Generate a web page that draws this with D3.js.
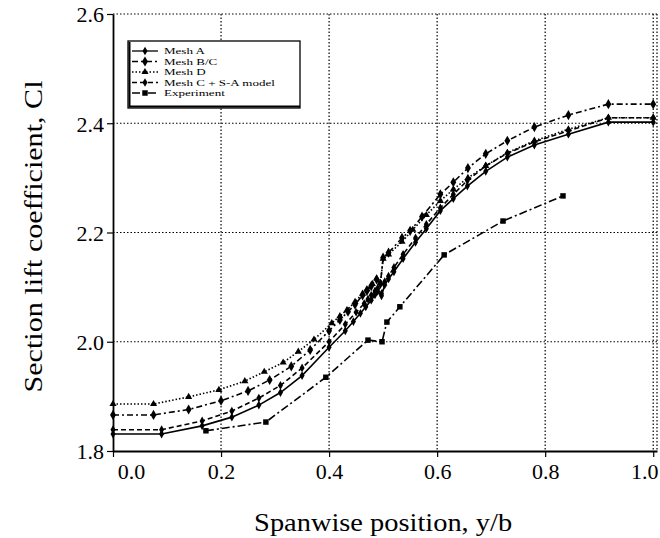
<!DOCTYPE html>
<html>
<head>
<meta charset="utf-8">
<script src="https://cdn.jsdelivr.net/npm/d3@7"></script>
<style>
  html, body { margin: 0; padding: 0; background: #fff; }
  #chart { width: 660px; height: 538px; }
  text { font-family: "Liberation Serif", "Times New Roman", serif; fill: #000; }
</style>
</head>
<body>
<div id="chart"></div>
<script>
'use strict';

// spanwise position y/b and section Cl
const meshA_x = [0, 0.09, 0.165, 0.22, 0.27, 0.31, 0.35, 0.4, 0.43, 0.445, 0.458, 0.468, 0.478, 0.485, 0.49, 0.497, 0.503, 0.51, 0.52, 0.537, 0.56, 0.58, 0.606, 0.63, 0.656, 0.69, 0.73, 0.78, 0.843, 0.917, 1.0];
const meshA_y = [1.831, 1.831, 1.846, 1.862, 1.884, 1.907, 1.938, 1.99, 2.02, 2.037, 2.052, 2.064, 2.076, 2.086, 2.092, 2.084, 2.104, 2.115, 2.128, 2.152, 2.182, 2.207, 2.24, 2.262, 2.285, 2.312, 2.338, 2.36, 2.38, 2.402, 2.402];

const meshBC_x = [0, 0.075, 0.14, 0.2, 0.25, 0.29, 0.33, 0.365, 0.4, 0.42, 0.435, 0.448, 0.462, 0.47, 0.478, 0.488, 0.495, 0.5, 0.51, 0.535, 0.55, 0.572, 0.606, 0.63, 0.657, 0.69, 0.73, 0.78, 0.843, 0.917, 1.0];
const meshBC_y = [1.866, 1.866, 1.876, 1.892, 1.91, 1.93, 1.955, 1.985, 2.02, 2.04, 2.055, 2.068, 2.085, 2.093, 2.102, 2.114, 2.106, 2.154, 2.163, 2.19, 2.203, 2.229, 2.27, 2.292, 2.318, 2.344, 2.368, 2.393, 2.415, 2.435, 2.435];

const meshD_x = [0, 0.075, 0.14, 0.196, 0.244, 0.28, 0.315, 0.343, 0.372, 0.405, 0.42, 0.433, 0.448, 0.462, 0.47, 0.48, 0.488, 0.495, 0.5, 0.51, 0.535, 0.555, 0.58, 0.606, 0.63, 0.657, 0.69, 0.73, 0.78, 0.843, 0.917, 1.0];
const meshD_y = [1.886, 1.886, 1.899, 1.912, 1.928, 1.945, 1.962, 1.982, 2.004, 2.034, 2.047, 2.058, 2.073, 2.088, 2.096, 2.106, 2.116, 2.107, 2.152, 2.16, 2.183, 2.205, 2.232, 2.258, 2.279, 2.3, 2.322, 2.346, 2.368, 2.389, 2.41, 2.41];

const meshCSA_x = [0, 0.09, 0.165, 0.22, 0.27, 0.31, 0.35, 0.4, 0.43, 0.45, 0.465, 0.472, 0.478, 0.485, 0.49, 0.497, 0.503, 0.51, 0.52, 0.537, 0.56, 0.58, 0.606, 0.63, 0.656, 0.69, 0.73, 0.78, 0.843, 0.917, 1.0];
const meshCSA_y = [1.839, 1.839, 1.855, 1.873, 1.897, 1.92, 1.952, 2.0, 2.032, 2.054, 2.07, 2.078, 2.085, 2.093, 2.098, 2.088, 2.11, 2.12, 2.136, 2.16, 2.19, 2.215, 2.245, 2.27, 2.295, 2.322, 2.345, 2.366, 2.386, 2.41, 2.41];

const exp_x = [0.172, 0.283, 0.394, 0.472, 0.498, 0.507, 0.531, 0.613, 0.722, 0.833];
const exp_y = [1.837, 1.853, 1.935, 2.003, 2.0, 2.036, 2.064, 2.159, 2.221, 2.267];

const seriesNames = ['Mesh A', 'Mesh B/C', 'Mesh D', 'Mesh C + S-A model', 'Experiment'];
const xTicks = [0, 0.2, 0.4, 0.6, 0.8, 1.0];
const yTicks = [1.8, 2.0, 2.2, 2.4, 2.6];

const SERIES = [
  { name: seriesNames[0], xs: meshA_x,   ys: meshA_y,   dash: null,      symbol: d3.symbolDiamond,  size: 22 },
  { name: seriesNames[1], xs: meshBC_x,  ys: meshBC_y,  dash: '6,3,2,3', symbol: d3.symbolDiamond,  size: 30 },
  { name: seriesNames[2], xs: meshD_x,   ys: meshD_y,   dash: '1.5,2',   symbol: d3.symbolTriangle, size: 22 },
  { name: seriesNames[3], xs: meshCSA_x, ys: meshCSA_y, dash: '5,3',     symbol: d3.symbolDiamond,  size: 22 },
  { name: seriesNames[4], xs: exp_x,     ys: exp_y,     dash: '8,3,2,3', symbol: d3.symbolSquare,   size: 30 },
];

const MARGIN = { top: 14, right: 3, bottom: 87, left: 113 };
const W = 660, H = 538;
const w = W - MARGIN.left - MARGIN.right;
const h = H - MARGIN.top - MARGIN.bottom;

const svg = d3.select('#chart').append('svg').attr('width', W).attr('height', H);
const g = svg.append('g').attr('transform', `translate(${MARGIN.left},${MARGIN.top})`);

const x = d3.scaleLinear().domain([0, 1.007]).range([0, w]);
const y = d3.scaleLinear().domain([1.8, 2.6]).range([h, 0]);

// dotted grid
g.append('g')
  .selectAll('line')
  .data(xTicks.slice(1).concat([1.007]))
  .join('line')
  .attr('x1', d => x(d)).attr('x2', d => x(d))
  .attr('y1', 0).attr('y2', h)
  .attr('stroke', '#000').attr('stroke-width', 1.2).attr('stroke-dasharray', '1.5,2');

g.append('g')
  .selectAll('line')
  .data(yTicks.slice(1))
  .join('line')
  .attr('x1', 0).attr('x2', w)
  .attr('y1', d => y(d)).attr('y2', d => y(d))
  .attr('stroke', '#000').attr('stroke-width', 1.2).attr('stroke-dasharray', '1.5,2');

// axes
const xAxis = g.append('g')
  .attr('transform', `translate(0,${h})`)
  .call(d3.axisBottom(x).tickValues(xTicks).tickFormat(d3.format('.1f')).tickSize(6).tickSizeOuter(0).tickPadding(6));
xAxis.select('.domain').attr('stroke-width', 1.8);
xAxis.selectAll('text').attr('font-size', 22);
xAxis.selectAll('.tick').filter(d => d === 0).select('text').attr('dx', 18);
xAxis.selectAll('.tick').filter(d => d === 1).select('text').attr('dx', -9);

const yAxis = g.append('g')
  .call(d3.axisLeft(y).tickValues(yTicks).tickFormat(d3.format('.1f')).tickSize(6).tickSizeOuter(0).tickPadding(3));
yAxis.select('.domain').attr('stroke-width', 1.8);
yAxis.selectAll('text').attr('font-size', 22).attr('dy', '0.36em');
g.selectAll('.tick line').attr('stroke-width', 1.2);

// series
const line = d3.line().x(d => x(d[0])).y(d => y(d[1]));

SERIES.forEach(s => {
  const pts = s.xs.map((v, i) => [v, s.ys[i]]);
  g.append('path')
    .datum(pts)
    .attr('fill', 'none')
    .attr('stroke', '#000')
    .attr('stroke-width', 1.6)
    .attr('stroke-dasharray', s.dash)
    .attr('d', line);
  g.append('g')
    .selectAll('path')
    .data(pts)
    .join('path')
    .attr('transform', d => `translate(${x(d[0])},${y(d[1])})`)
    .attr('d', d3.symbol().type(s.symbol).size(s.size))
    .attr('fill', '#000');
});

// legend
const legend = svg.append('g').attr('transform', 'translate(128,41)');
legend.append('rect')
  .attr('x', 0).attr('y', 0).attr('width', 172).attr('height', 67)
  .attr('fill', '#fff').attr('stroke', '#000').attr('stroke-width', 1.3);
legend.append('path')
  .attr('d', 'M1.5,1 V65.5 H172')
  .attr('fill', 'none').attr('stroke', '#000').attr('stroke-width', 2);

SERIES.forEach((s, i) => {
  const ry = 10 + i * 10.5;
  const row = legend.append('g').attr('transform', `translate(0,${ry})`);
  row.append('line')
    .attr('x1', 4).attr('x2', 30).attr('y1', 0).attr('y2', 0)
    .attr('stroke', '#000').attr('stroke-width', 1.3)
    .attr('stroke-dasharray', s.dash);
  row.append('path')
    .attr('transform', 'translate(17,0)')
    .attr('d', d3.symbol().type(s.symbol).size(s.size))
    .attr('fill', '#000');
  row.append('text')
    .attr('transform', 'translate(36,3.2) scale(1.45,1)')
    .attr('font-size', 9)
    .text(s.name);
});

// axis titles
svg.append('text')
  .attr('x', MARGIN.left + x(0.5))
  .attr('y', 531)
  .attr('text-anchor', 'middle')
  .attr('font-size', 26)
  .attr('textLength', 258)
  .attr('lengthAdjust', 'spacingAndGlyphs')
  .text('Spanwise position, y/b');

svg.append('text')
  .attr('transform', `translate(42,${MARGIN.top + h / 2 + 4}) rotate(-90)`)
  .attr('text-anchor', 'middle')
  .attr('font-size', 26)
  .attr('textLength', 312)
  .attr('lengthAdjust', 'spacingAndGlyphs')
  .text('Section lift coefficient, Cl');
</script>
</body>
</html>
